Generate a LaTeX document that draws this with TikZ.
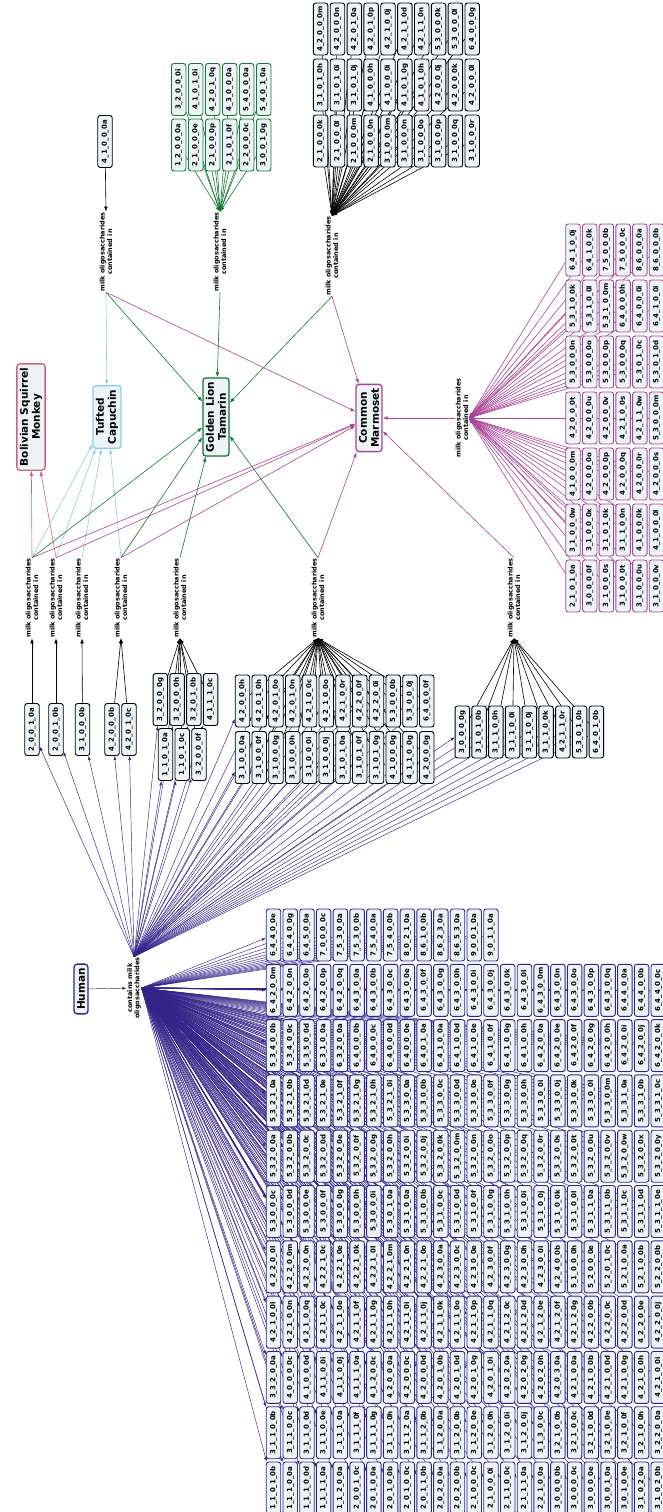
\documentclass[tikz,border=0pt]{standalone}
\usepackage{fontspec}
\setmainfont{DejaVu Sans}
\usetikzlibrary{arrows.meta,backgrounds}

\definecolor{humanc}{HTML}{332288}
\definecolor{rosec}{HTML}{CC6677}
\definecolor{cyanc}{HTML}{88CCEE}
\definecolor{greenc}{HTML}{117733}
\definecolor{purplec}{HTML}{AA4499}
\definecolor{boxfill}{HTML}{EDF4F7}

% print a label such as 4_2_0_0_0m with its underscores
\newcommand\olab[1]{\detokenize\expandafter{#1}}

\tikzset{
  oligo/.style={draw=#1, fill=boxfill, rotate=90, rounded corners=2.5pt, line width=0.9pt,
    minimum width=52pt, minimum height=14.5pt, inner sep=1pt, font=\fontsize{7}{8}\selectfont\bfseries},
  oligo/.default=black,
  species/.style={draw=#1, fill=boxfill, rotate=90, rounded corners=3pt, line width=1.3pt,
    align=center, inner xsep=4pt, inner ysep=3pt, font=\fontsize{10.5}{12}\selectfont\bfseries},
  relation/.style={rotate=90, align=center, inner sep=0.5pt, font=\fontsize{6.5}{7.4}\selectfont\bfseries},
  link/.style={draw=#1, line width=0.6pt, -{Latex[length=5pt,width=3.6pt]}},
  link/.default=black,
  hlink/.style={link=humanc, line width=0.45pt, -{Latex[length=4pt,width=3pt]}},
}

\begin{document}
\begin{tikzpicture}[x=1pt,y=-1pt]
  \useasboundingbox (0,0) rectangle (663,1512);

  % species
  \node[species=rosec] (bolivian) at (31,417) {Bolivian Squirrel\\Monkey};
  \node[species=cyanc] (capuchin) at (107,417) {Tufted\\Capuchin};
  \node[species=greenc] (tamarin) at (216,417) {Golden Lion\\Tamarin};
  \node[species=purplec] (marmoset) at (369,418) {Common\\Marmoset};
  \node[species=humanc] (human) at (81,989) {Human};

  % relation labels
  \node[relation] (hrel) at (134,988) {contains milk\\oligosaccharides};
  \node[relation] (ra) at (106,252) {milk oligosaccharides\\contained in};
  \node[relation] (rb) at (220,252) {milk oligosaccharides\\contained in};
  \node[relation] (rc) at (332,256) {milk oligosaccharides\\contained in};
  \node[relation] (rd) at (462,418) {milk oligosaccharides\\contained in};
  \foreach \k/\x in {1/32,2/56,3/82,4/121,5/180,6/318,7/514}
    \node[relation] (r\k) at (\x,598) {milk oligosaccharides\\contained in};

  % Golden Lion Tamarin and Common Marmoset
  \node[oligo] (ta) at (105,141.5) {\olab{4_1_0_0_0a}};
  \foreach \r/\lst in {0/{4_2_0_0_0m,4_2_0_0_0n,4_2_0_1_0a,4_2_0_1_0p,4_2_1_0_0j,4_2_1_1_0d,4_2_1_1_0n,5_3_0_0_0k,5_3_0_0_0l,6_4_0_0_0g},
      1/{3_1_0_1_0h,3_1_0_1_0i,3_1_0_1_0j,4_1_0_0_0h,4_1_0_0_0i,4_1_0_1_0g,4_1_0_1_0h,4_2_0_0_0j,4_2_0_0_0k,4_2_0_0_0l},
      2/{2_1_0_0_0k,2_1_0_0_0l,2_1_0_0_0m,2_1_0_0_0n,3_1_0_0_0m,3_1_0_0_0n,3_1_0_0_0o,3_1_0_0_0p,3_1_0_0_0q,3_1_0_0_0r}}
    \foreach \t [count=\c from 0] in \lst
      \node[oligo] (tb-\r-\c) at ({320.6+16.85*\c},{29+56*\r}) {\olab{\t}};

  % Golden Lion Tamarin only
  \foreach \r/\lst in {0/{3_2_0_0_0i,4_1_0_1_0i,4_2_0_1_0q,4_3_0_0_0a,5_4_0_0_0a,5_4_0_1_0a},
      1/{1_2_0_0_0a,2_1_0_0_0e,2_1_0_0_0p,2_1_0_1_0f,2_2_0_0_0c,3_0_0_1_0g}}
    \foreach \t [count=\c from 0] in \lst
      \node[oligo=greenc] (gl-\r-\c) at ({178.7+17*\c},{89.5+55.5*\r}) {\olab{\t}};

  % Common Marmoset only
  \foreach \r/\lst in {0/{6_4_1_0_0j,6_4_1_0_0k,7_5_0_0_0b,7_5_0_0_0c,8_6_0_0_0a,8_6_0_0_0b},
      1/{5_3_1_0_0k,5_3_1_0_0l,5_3_1_0_0m,6_4_0_0_0h,6_4_0_0_0i,6_4_1_0_0i},
      2/{5_3_0_0_0n,5_3_0_0_0o,5_3_0_0_0p,5_3_0_0_0q,5_3_0_1_0c,5_3_0_1_0d},
      3/{4_2_0_0_0t,4_2_0_0_0u,4_2_0_0_0v,4_2_1_0_0s,4_2_1_1_0w,5_3_0_0_0m},
      4/{4_1_0_0_0m,4_2_0_0_0o,4_2_0_0_0p,4_2_0_0_0q,4_2_0_0_0r,4_2_0_0_0s},
      5/{3_1_0_0_0w,3_1_0_0_0x,3_1_0_1_0k,3_1_1_0_0n,4_1_0_0_0k,4_1_0_0_0l},
      6/{2_1_0_1_0a,3_0_0_0_0f,3_1_0_0_0s,3_1_0_0_0t,3_1_0_0_0u,3_1_0_0_0v}}
    \foreach \t [count=\c from 0] in \lst
      \node[oligo=purplec] (cm-\r-\c) at ({573+16.7*\c},{250+56*\r}) {\olab{\t}};

  % shared with Human
  \node[oligo] (s1) at (32,729.5) {\olab{2_0_0_1_0a}};
  \node[oligo] (s2) at (56,729.5) {\olab{2_0_0_1_0b}};
  \node[oligo] (s3) at (82.5,729.5) {\olab{3_1_0_0_0b}};
  \node[oligo] (s4a) at (112,729.5) {\olab{4_2_0_0_0b}};
  \node[oligo] (s4b) at (129,729.5) {\olab{4_2_0_1_0c}};
  \foreach \g/\r/\x/\y/\lst in {5/0/160.3/699.5/{3_2_0_0_0g,3_2_0_0_0h,3_2_0_1_0b,4_1_1_1_0c},
      5/1/165.5/754.5/{1_1_0_1_0a,1_1_0_1_0c,3_2_0_0_0f},
      6/0/242.5/701/{4_2_0_0_0h,4_2_0_1_0h,4_2_0_1_0o,4_2_0_1_0n,4_2_1_0_0c,4_2_1_0_0o,4_2_1_0_0r,4_2_2_0_0f,4_2_2_0_0i,5_3_0_0_0b,5_3_0_0_0j,6_4_0_0_0f},
      6/1/242.5/757.5/{3_1_0_0_0a,3_1_0_0_0f,3_1_0_0_0g,3_1_0_0_0h,3_1_0_0_0i,3_1_0_0_0j,3_1_0_1_0a,3_1_0_1_0f,3_1_0_1_0g,4_1_0_0_0g,4_1_1_0_0g,4_2_0_0_0g},
      7/0/462.3/732/{3_0_0_0_0g,3_1_0_1_0b,3_1_1_0_0h,3_1_1_0_0i,3_1_1_0_0j,3_1_1_0_0k,4_2_1_1_0r,5_3_0_1_0b,6_4_0_1_0b}}
    \foreach \t [count=\c from 0] in \lst
      \node[oligo] (s\g-\r-\c) at ({\x+16.75*\c},\y) {\olab{\t}};

  % Human only
  \foreach \r/\lst in {0/{6_4_4_0_0e,6_4_4_0_0g,6_4_5_0_0a,7_0_0_0_0c,7_5_3_0_0a,7_5_3_0_0b,7_5_4_0_0a,7_5_4_0_0b,8_0_2_1_0a,8_6_1_0_0b,8_6_2_3_0a,8_6_5_3_0a,9_0_0_1_0a,9_0_1_1_0a},
      1/{6_4_2_0_0m,6_4_2_0_0n,6_4_2_0_0o,6_4_2_0_0p,6_4_2_0_0q,6_4_3_0_0a,6_4_3_0_0b,6_4_3_0_0c,6_4_3_0_0e,6_4_3_0_0f,6_4_3_0_0g,6_4_3_0_0h,6_4_3_0_0i,6_4_3_0_0j,6_4_3_0_0k,6_4_3_0_0l,6_4_3_0_0m,6_4_3_0_0n,6_4_3_0_0o,6_4_3_0_0p,6_4_3_0_0q,6_4_4_0_0a,6_4_4_0_0b,6_4_4_0_0c},
      2/{5_3_4_0_0b,5_3_4_0_0c,5_3_5_0_0d,6_3_1_0_0a,6_3_2_0_0a,6_4_0_0_0b,6_4_0_0_0c,6_4_0_0_0d,6_4_0_0_0e,6_4_0_1_0a,6_4_1_0_0a,6_4_1_0_0d,6_4_1_0_0e,6_4_1_0_0f,6_4_1_0_0g,6_4_1_0_0h,6_4_2_0_0a,6_4_2_0_0e,6_4_2_0_0f,6_4_2_0_0g,6_4_2_0_0h,6_4_2_0_0i,6_4_2_0_0j,6_4_2_0_0k},
      3/{5_3_2_1_0a,5_3_2_1_0b,5_3_2_1_0d,5_3_2_1_0e,5_3_2_1_0f,5_3_2_1_0g,5_3_2_1_0h,5_3_2_1_0i,5_3_3_0_0a,5_3_3_0_0b,5_3_3_0_0c,5_3_3_0_0d,5_3_3_0_0e,5_3_3_0_0f,5_3_3_0_0g,5_3_3_0_0h,5_3_3_0_0i,5_3_3_0_0j,5_3_3_0_0k,5_3_3_0_0l,5_3_3_0_0m,5_3_3_1_0a,5_3_3_1_0b,5_3_3_1_0c},
      4/{5_3_2_0_0a,5_3_2_0_0b,5_3_2_0_0c,5_3_2_0_0d,5_3_2_0_0e,5_3_2_0_0f,5_3_2_0_0g,5_3_2_0_0h,5_3_2_0_0i,5_3_2_0_0j,5_3_2_0_0k,5_3_2_0_0m,5_3_2_0_0n,5_3_2_0_0o,5_3_2_0_0p,5_3_2_0_0q,5_3_2_0_0r,5_3_2_0_0s,5_3_2_0_0t,5_3_2_0_0u,5_3_2_0_0v,5_3_2_0_0w,5_3_2_0_0x,5_3_2_0_0y},
      5/{5_3_0_0_0c,5_3_0_0_0d,5_3_0_0_0e,5_3_0_0_0f,5_3_0_0_0g,5_3_0_0_0h,5_3_0_0_0i,5_3_0_1_0a,5_3_1_0_0a,5_3_1_0_0b,5_3_1_0_0c,5_3_1_0_0d,5_3_1_0_0f,5_3_1_0_0g,5_3_1_0_0h,5_3_1_0_0i,5_3_1_0_0j,5_3_1_0_0k,5_3_1_0_0l,5_3_1_1_0a,5_3_1_1_0b,5_3_1_1_0c,5_3_1_1_0d,5_3_1_1_0e},
      6/{4_2_2_0_0l,4_2_2_0_0m,4_2_2_0_0n,4_2_2_1_0c,4_2_2_1_0e,4_2_2_1_0k,4_2_2_1_0l,4_2_2_1_0m,4_2_2_1_0n,4_2_2_1_0o,4_2_3_0_0a,4_2_3_0_0c,4_2_3_0_0e,4_2_3_0_0f,4_2_3_0_0g,4_2_3_0_0h,4_2_3_0_0i,4_2_4_0_0b,5_1_0_0_0h,5_2_0_0_0e,5_2_0_1_0c,5_2_1_0_0a,5_2_1_0_0b,5_2_2_0_0b},
      7/{4_2_1_0_0l,4_2_1_0_0n,4_2_1_0_0q,4_2_1_1_0c,4_2_1_1_0e,4_2_1_1_0f,4_2_1_1_0g,4_2_1_1_0h,4_2_1_1_0i,4_2_1_1_0j,4_2_1_1_0k,4_2_1_1_0o,4_2_1_1_0p,4_2_1_1_0q,4_2_1_2_0c,4_2_1_2_0d,4_2_1_2_0e,4_2_1_2_0f,4_2_1_2_0g,4_2_2_0_0b,4_2_2_0_0c,4_2_2_0_0d,4_2_2_0_0e,4_2_2_0_0j},
      8/{3_3_2_0_0a,4_0_0_0_0c,4_1_0_0_0d,4_1_1_0_0i,4_1_1_0_0j,4_1_1_1_0a,4_1_2_0_0c,4_2_0_0_0a,4_2_0_0_0c,4_2_0_0_0d,4_2_0_1_0b,4_2_0_1_0d,4_2_0_1_0g,4_2_0_1_0i,4_2_0_2_0a,4_2_0_2_0g,4_2_0_2_0h,4_2_0_3_0a,4_2_1_0_0a,4_2_1_0_0b,4_2_1_0_0d,4_2_1_0_0g,4_2_1_0_0h,4_2_1_0_0i},
      9/{3_1_1_0_0b,3_1_1_0_0c,3_1_1_0_0d,3_1_1_0_0e,3_1_1_1_0a,3_1_1_1_0f,3_1_1_1_0g,3_1_1_1_0h,3_1_1_2_0a,3_1_1_2_0b,3_1_2_0_0a,3_1_2_0_0b,3_1_2_0_0e,3_1_2_0_0h,3_1_2_0_0i,3_1_2_0_0j,3_1_3_0_0c,3_2_1_0_0b,3_2_1_0_0c,3_2_1_0_0d,3_2_1_0_0e,3_2_1_0_0f,3_2_1_0_0h,3_2_2_0_0a},
      10/{1_1_0_1_0b,1_1_1_0_0a,1_1_1_0_0d,1_1_1_1_0a,1_1_2_0_0a,2_0_0_1_0c,2_0_1_0_0a,2_0_1_0_0b,2_0_1_0_0c,2_0_1_1_0b,2_0_2_0_0a,2_0_2_0_0b,2_1_0_0_0c,2_1_0_0_0i,2_1_1_0_0c,2_1_1_1_0a,2_2_1_0_0a,3_0_0_0_0b,3_0_0_0_0c,3_0_0_0_0e,3_0_0_1_0a,3_0_1_0_0e,3_1_0_2_0a,3_1_0_2_0b}}
    \foreach \t [count=\c from 0] in \lst
      \node[oligo=humanc] (hu-\r-\c) at ({273.5+16.73*\c},{935+55.3*\r}) {\olab{\t}};

  % all connectors go under the boxes
  \begin{pgfonlayer}{background}
    \draw[hlink] (human) -- (hrel);
    \foreach \r/\n in {0/13,1/23,2/23,3/23,4/23,5/23,6/23,7/23,8/23,9/23,10/23}
      \foreach \c in {0,...,\n}
        \draw[hlink] (hrel.south) -- (hu-\r-\c);
    \foreach \n in {s1,s2,s3,s4a,s4b}
      \draw[hlink] (hrel.east) -- (\n);
    \foreach \g/\r/\n in {5/0/3,5/1/2,6/0/11,6/1/11,7/0/8}
      \foreach \c in {0,...,\n} {
        \draw[hlink] (hrel.east) -- (s\g-\r-\c);
        \draw[link] (s\g-\r-\c) -- (r\g.west);
      }
    \draw[link] (s1) -- (r1.west);
    \draw[link] (s2) -- (r2.west);
    \draw[link] (s3) -- (r3.west);
    \draw[link] (s4a) -- (r4.west);
    \draw[link] (s4b) -- (r4.west);
    \draw[link] (ta) -- (ra.east);
    \foreach \r in {0,1,2}
      \foreach \c in {0,...,9}
        \draw[link] (tb-\r-\c) -- (rc.east);
    \foreach \r in {0,1}
      \foreach \c in {0,...,5}
        \draw[link=greenc] (gl-\r-\c) -- (rb.east);
    \foreach \r in {0,...,6}
      \foreach \c in {0,...,5}
        \draw[link=purplec] (cm-\r-\c) -- (rd.south);
    % to the species
    \draw[link=rosec] (r1.east) -- (bolivian);
    \draw[link=rosec] (r2.east) -- (bolivian);
    \foreach \s in {ra.west,r1.east,r2.east,r3.east,r4.east}
      \draw[link=cyanc] (\s) -- (capuchin);
    \foreach \s in {ra.west,rb.west,rc.west,r1.east,r4.east,r5.east,r6.east}
      \draw[link=greenc] (\s) -- (tamarin);
    \foreach \s in {ra.west,rc.west,rd.north,r1.east,r2.east,r4.east,r6.east,r7.east}
      \draw[link=purplec] (\s) -- (marmoset);
  \end{pgfonlayer}
\end{tikzpicture}
\end{document}
